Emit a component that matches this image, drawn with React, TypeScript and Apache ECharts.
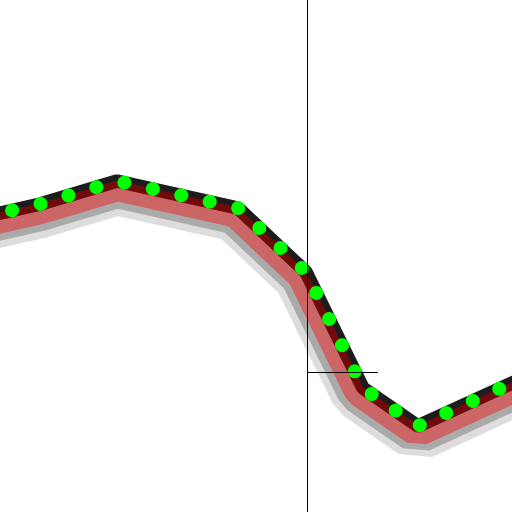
import React, { useEffect, useRef } from "react";
import * as echarts from "echarts";

// Line vertices (x to the right, y upward, 0..512 both ways)
const xValues = [-30, 40, 117, 238, 306, 363, 418, 560];
const yValues = [292, 308, 331, 304, 240, 124, 86, 151];

// crosshair-like reference lines (value coordinates)
const vLineX = 307.5;
const hLineY = 139.5;
const hLineEndX = 378;

const points = xValues.map((x, i) => [x, yValues[i]]);

// wide strokes centred on the line (only their lower half stays visible)
const underStrokes = [
  { width: 68, color: "#dddddd" },
  { width: 54, color: "#aaaaaa" },
  { width: 40, color: "#cc6666" },
];
const blackWidth = 13.5;
const darkBand = { off: 3.1, width: 7.3, color: "rgba(170,0,0,0.6)" };

function offsetPolyline(pts: number[][], off: number): number[][] {
  const n = pts.length;
  const normals: number[][] = [];
  for (let i = 0; i < n - 1; i++) {
    const dx = pts[i + 1][0] - pts[i][0];
    const dy = pts[i + 1][1] - pts[i][1];
    const len = Math.hypot(dx, dy) || 1;
    normals.push([-dy / len, dx / len]);
  }
  return pts.map((p, j) => {
    if (j === 0) return [p[0] + off * normals[0][0], p[1] + off * normals[0][1]];
    if (j === n - 1) return [p[0] + off * normals[n - 2][0], p[1] + off * normals[n - 2][1]];
    const a = normals[j - 1];
    const b = normals[j];
    const k = 1 + a[0] * b[0] + a[1] * b[1];
    return [p[0] + (off * (a[0] + b[0])) / k, p[1] + (off * (a[1] + b[1])) / k];
  });
}

export default function App() {
  const ref = useRef<HTMLDivElement>(null);
  useEffect(() => {
    if (!ref.current) return;
    const chart = echarts.init(ref.current, undefined, { renderer: "svg" });
    chart.setOption({
      animation: false,
      grid: { left: 0, top: 0, right: 0, bottom: 0 },
      xAxis: { type: "value", min: 0, max: 512, show: false },
      yAxis: { type: "value", min: 0, max: 512, show: false },
      series: [
        {
          type: "custom",
          coordinateSystem: "cartesian2d",
          data: points,
          encode: { x: 0, y: 1 },
          clip: false,
          silent: true,
          renderItem: (params: any, api: any) => {
            if (params.dataIndex !== 0) return null;
            const px = points.map((p) => api.coord(p) as number[]);
            const first = px[0];
            const last = px[px.length - 1];
            const mask = [[first[0], -2000], ...px, [last[0], -2000]];
            const children: any[] = underStrokes.map((s) => ({
              type: "polyline",
              shape: { points: px },
              style: { stroke: s.color, lineWidth: s.width, fill: "none", lineJoin: "bevel" },
            }));
            children.push({
              type: "polygon",
              shape: { points: mask },
              style: { fill: "#ffffff", stroke: "none" },
            });
            children.push({
              type: "polyline",
              shape: { points: px },
              style: { stroke: "#1c1c1c", lineWidth: blackWidth, fill: "none", lineJoin: "bevel" },
            });
            children.push({
              type: "polyline",
              shape: { points: offsetPolyline(px, darkBand.off) },
              style: { stroke: darkBand.color, lineWidth: darkBand.width, fill: "none", lineJoin: "bevel" },
            });
            return { type: "group", children };
          },
        },
        {
          type: "line",
          data: points,
          showSymbol: false,
          symbol: "none",
          clip: false,
          silent: true,
          lineStyle: {
            color: "#00ff00",
            width: 14,
            cap: "round",
            type: [0.01, 29.12],
            dashOffset: 15.18,
          },
          markLine: {
            silent: true,
            symbol: "none",
            label: { show: false },
            lineStyle: { color: "#000000", width: 1, type: "solid" },
            data: [
              { xAxis: vLineX },
              [{ coord: [vLineX, hLineY] }, { coord: [hLineEndX, hLineY] }],
            ],
          },
        },
      ],
    });
    return () => chart.dispose();
  }, []);
  return (
    <div
      ref={ref}
      style={{ position: "fixed", left: 0, top: 0, width: 512, height: 512, background: "#ffffff" }}
    />
  );
}
